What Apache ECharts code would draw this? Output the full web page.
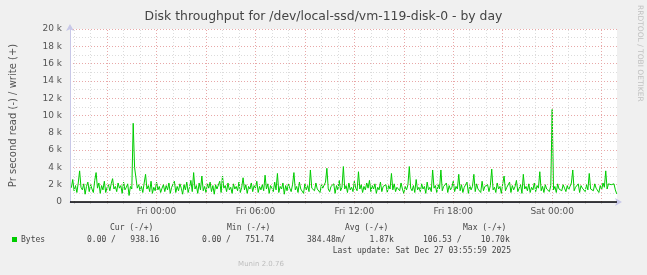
<!DOCTYPE html>
<html>
<head>
<meta charset="utf-8">
<script src="https://cdn.jsdelivr.net/npm/echarts@6/dist/echarts.min.js"></script>
<style>
html,body{margin:0;padding:0;background:#f0f0f0;}
#chart{width:647px;height:275px;}
</style>
</head>
<body>
<div id="chart"></div>
<script>
// Time in minutes relative to Fri 00:00, 5-minute samples
const startMinute = -310;
const stepMinutes = 5;
// Write bytes per second (read is 0 throughout)
const writeValues = [
  1650, 2600, 1300, 1900, 1100, 2200, 3600, 1700, 1400, 2100, 900, 1800, 2300, 1200, 2000, 1500, 1100, 2500, 3400, 1600,
  2200, 1000, 1900, 1400, 2400, 1100, 1700, 2000, 1300, 2100, 2700, 1500, 1800, 1200, 2200, 1600, 1900, 1000, 2300, 1400,
  1700, 2100, 752, 1800, 1500, 9100, 4000, 3900, 1600, 2000, 1300, 1800, 1100, 2200, 3200, 1500, 1900, 1200, 2400, 1000,
  1700, 1300, 2300, 1400, 1800, 1100, 1600, 2000, 1200, 1900, 1400, 2200, 1000, 1700, 1500, 2400, 1100, 1800, 1300, 2100,
  1600, 900, 2000, 1400, 2300, 1100, 1700, 2500, 1200, 3400, 1500, 1900, 1000, 2200, 1400, 3000, 1300, 1800, 1100, 2100,
  1600, 2300, 1200, 1900, 900, 2000, 1500, 1300, 2400, 1100, 3000, 1600, 1900, 1200, 2200, 1400, 1700, 1000, 2100, 1500,
  1800, 1300, 2300, 1100, 1700, 2800, 1400, 2000, 1000, 1800, 1500, 2200, 1200, 1900, 1600, 2400, 1100, 1800, 1400, 2000,
  1300, 3100, 1500, 2100, 1000, 1900, 1600, 1200, 2300, 1400, 3300, 1100, 1800, 1500, 2200, 900, 1900, 1300, 2100, 1600,
  1200, 2000, 3400, 1400, 1800, 1100, 2300, 1500, 1700, 1000, 2100, 1400, 1900, 1200, 3700, 1600, 1800, 1300, 2200, 1500,
  1700, 1100, 2000, 1600, 1400, 2300, 3900, 1500, 1200, 1800, 1600, 2100, 1000, 1900, 1400, 2500, 1300, 1700, 4100, 1500,
  1900, 1100, 2200, 1400, 1700, 1200, 2400, 1600, 1300, 3500, 1500, 2000, 1100, 1800, 1400, 2200, 1600, 2500, 1200, 1900,
  1500, 2100, 1000, 1700, 1400, 2300, 1200, 1800, 1600, 2000, 1100, 1900, 1500, 3300, 1400, 2100, 1200, 1700, 1900, 1300,
  2200, 1500, 1000, 1800, 1400, 2000, 4100, 1600, 1300, 1900, 1100, 2600, 1400, 1700, 1200, 2100, 1500, 1800, 1000, 2300,
  1400, 1700, 1200, 3700, 1600, 1900, 1100, 2000, 1500, 3700, 1300, 1800, 1600, 2200, 1100, 1900, 1400, 1700, 2400, 1200,
  1800, 1500, 3200, 1300, 2000, 1100, 1700, 1600, 2300, 1000, 1900, 1400, 1800, 3200, 1200, 2100, 1500, 1700, 1100, 2400,
  1300, 1800, 1600, 2000, 1200, 1900, 3800, 1400, 1700, 1100, 2200, 1500, 1800, 1000, 2100, 3000, 1300, 1700, 1500, 2300,
  1100, 1900, 1400, 1800, 2500, 1200, 1600, 2000, 1000, 3200, 1500, 1800, 1300, 2100, 1100, 1700, 1400, 2200, 1200, 1900,
  1600, 3500, 1300, 1800, 1100, 2000, 1500, 1700, 1200, 1900, 10700, 1400, 1800, 1100, 2100, 1500, 1700, 1300, 2000, 1600,
  1200, 1900, 1400, 1800, 2200, 3700, 1300, 1700, 1500, 2100, 1100, 1900, 1600, 1800, 1200, 2000, 1400, 3300, 1500, 1700,
  1300, 2100, 1600, 1800, 1100, 1900, 1400, 2200, 1700, 3600, 1500, 2100, 2100, 2000, 2100, 2100, 1400, 938
];
const xTickValues = [0, 360, 720, 1080, 1440];
const xTickLabels = ['Fri 00:00', 'Fri 06:00', 'Fri 12:00', 'Fri 18:00', 'Sat 00:00'];
const hourGrid = [-300,-240,-120,-60,60,120,240,300,420,480,600,660,780,840,960,1020,1140,1200,1320,1380,1500,1560];
const majorGrid = [-180,0,180,360,540,720,900,1080,1260,1440,1620];
const yTickValues = [0,2000,4000,6000,8000,10000,12000,14000,16000,18000,20000];
const yTickLabels = ['0','2 k','4 k','6 k','8 k','10 k','12 k','14 k','16 k','18 k','20 k'];

const legendHeaders = ['Cur (-/+)', 'Min (-/+)', 'Avg (-/+)', 'Max (-/+)'];
const legendValues = ['0.00 /   938.16', '0.00 /   751.74', '384.48m/     1.87k', '106.53 /    10.70k'];
const seriesName = 'Bytes';
const lastUpdate = 'Last update: Sat Dec 27 03:55:59 2025';

const chart = echarts.init(document.getElementById('chart'), null, {renderer: 'canvas'});
const mono = '"DejaVu Sans Mono", monospace';
const sans = '"DejaVu Sans", sans-serif';
const gridColor = '#dcdcdc';
const majorColor = '#e8a8a8';

const headerX = [110, 227, 345, 463];
const valueX = [87, 202, 307, 423];

const graphics = [
  {type:'text', left:'center', top:11, style:{text:'Disk throughput for /dev/local-ssd/vm-119-disk-0 - by day', font:'12.4px '+sans, fill:'#444'}},
  {type:'text', x:640, y:5, rotation:-Math.PI/2, style:{text:'RRDTOOL / TOBI OETIKER', font:'7.5px '+sans, fill:'#c0c0c0', textAlign:'left', textVerticalAlign:'middle'}},
  {type:'rect', shape:{x:12, y:237, width:5, height:5}, style:{fill:'#00cc00'}},
  {type:'text', x:21, y:240, style:{text:seriesName, font:'8px '+mono, fill:'#444', textVerticalAlign:'middle'}},
  {type:'text', x:511, y:251, style:{text:lastUpdate, font:'8px '+mono, fill:'#444', textAlign:'right', textVerticalAlign:'middle'}},
  {type:'text', x:261, y:264, style:{text:'Munin 2.0.76', font:'7px '+sans, fill:'#bdbdbd', textAlign:'center', textVerticalAlign:'middle'}}
];
legendHeaders.forEach((h, k) => {
  graphics.push({type:'text', x:headerX[k], y:228, style:{text:h, font:'8px '+mono, fill:'#444', textVerticalAlign:'middle'}});
  graphics.push({type:'text', x:valueX[k], y:240, style:{text:legendValues[k], font:'8px '+mono, fill:'#444', textVerticalAlign:'middle'}});
});

const gridLines = hourGrid.map(v => ({xAxis:v, lineStyle:{color:gridColor, type:[1,2], width:1}}))
  .concat(majorGrid.map(v => ({xAxis:v, lineStyle:{color:majorColor, type:[1,2], width:1}})));

chart.setOption({
  animation: false,
  backgroundColor: '#f0f0f0',
  grid: {left:67, right:30, top:29, bottom:73, backgroundColor:'#ffffff', show:true, borderWidth:0},
  xAxis: {
    type:'value', min:-315, max:1676,
    axisLine:{show:true, onZero:false, lineStyle:{color:'#c8c8e8', width:1}, symbol:['none','arrow'], symbolSize:[6,7], symbolOffset:[0,5]},
    axisTick:{show:true, customValues: hourGrid.concat(majorGrid), length:2, lineStyle:{color:'#cccccc'}},
    axisLabel:{customValues: xTickValues, formatter: v => xTickLabels[xTickValues.indexOf(v)] || '', fontFamily:'DejaVu Sans', fontSize:9, color:'#555', margin:5},
    splitLine:{show:false}
  },
  yAxis: {
    type:'value', min:0, max:20000, interval:2000,
    name:'Pr second read (-) / write (+)', nameLocation:'middle', nameGap:52, nameRotate:90,
    nameTextStyle:{fontFamily:'DejaVu Sans', fontSize:10, color:'#555'},
    axisLine:{show:true, onZero:false, lineStyle:{color:'#c8c8e8', width:1}, symbol:['none','arrow'], symbolSize:[6,7], symbolOffset:[0,5]},
    axisTick:{show:false},
    axisLabel:{formatter: v => yTickLabels[yTickValues.indexOf(v)], fontFamily:'DejaVu Sans', fontSize:9, color:'#555', margin:8},
    splitLine:{show:true, lineStyle:{color:majorColor, type:[1,2], width:1}},
    minorTick:{show:false, splitNumber:2},
    minorSplitLine:{show:true, lineStyle:{color:gridColor, type:[1,2], width:1}}
  },
  graphic: graphics,
  series: [
    {
      type:'line', z:1, data:[[-315,0]], showSymbol:false, lineStyle:{opacity:0}, silent:true,
      markLine:{silent:true, symbol:['none','none'], label:{show:false}, animation:false, data: gridLines}
    },
    {
      type:'line', name:seriesName, z:3,
      data: writeValues.map((v,i) => [startMinute + i*stepMinutes, v]),
      showSymbol:false, symbol:'none',
      lineStyle:{color:'#00cc00', width:1},
      markLine:{silent:true, symbol:['none','none'], label:{show:false}, animation:false,
        data:[{yAxis:0, lineStyle:{color:'#000', width:1.5, type:'solid'}}]}
    }
  ]
});
</script>
</body>
</html>
